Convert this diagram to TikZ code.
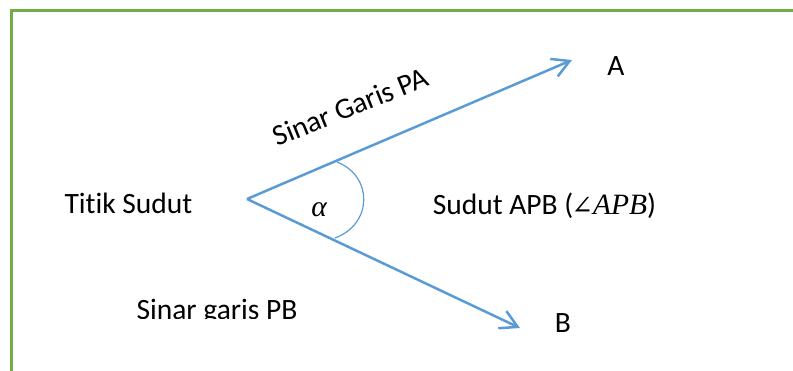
\documentclass[tikz,border=0pt]{standalone}
\usepackage{fontspec}
\setmainfont{Carlito}[Ligatures=NoCommon]
\newfontfamily\mathfont{Liberation Serif}
\newfontfamily\symfont{DejaVu Serif}
\usepackage{tikz}
\usetikzlibrary{arrows.meta, calc}
\definecolor{Cframe}{RGB}{112, 173, 71}
\definecolor{Cray}{RGB}{91, 155, 213}
\newcommand{\mvar}[1]{{\mathfont\itshape #1}}
\tikzset{
    ray/.style={-{Straight Barb[length=17pt, width=19pt, line width=2.5pt]}, line width=2.5pt, Cray},
    lbl/.style={font=\fontsize{29.5}{34}\selectfont, inner sep=0pt, text=black, anchor=base},
}

\begin{document}
\begin{tikzpicture}[x=1pt, y=-1pt]
    \useasboundingbox (0,0) rectangle (793,371);

    % frame
    \draw [Cframe, line width=3pt] (11.5,371) -- (11.5,10.5) -- (793,10.5);

    % points
    \coordinate (P) at (247,199);
    \coordinate (A) at (572,60);
    \coordinate (B) at (520,328);

    % rays
    \draw [ray] (P) -- (A);
    \draw [ray] (P) -- (B);

    % angle arc
    \draw [Cray, line width=1.2pt] (337,162) .. controls (373,176) and (373,224) .. (335,238);

    % labels
    \node [lbl] (vertex) at (128.5,214) {Titik Sudut};
    \node [lbl, rotate=22] (rayA) at (354,116) {Sinar Garis PA};
    \node [lbl] (alpha) at (319,217) {\mvar{α}};
    \node [lbl] (angle) at (544.5,215) {Sudut APB (\kern-2pt{\symfont\fontsize{26}{30}\selectfont ∠}\mvar{APB})};
    \node [lbl] (labA) at (616,76) {A};
    \node [lbl] (labB) at (563,333) {B};
    \begin{scope}
        \clip (0,0) rectangle (793,319);
        \node [lbl] (rayB) at (217,320) {Sinar garis PB};
    \end{scope}

\end{tikzpicture}
\end{document}
